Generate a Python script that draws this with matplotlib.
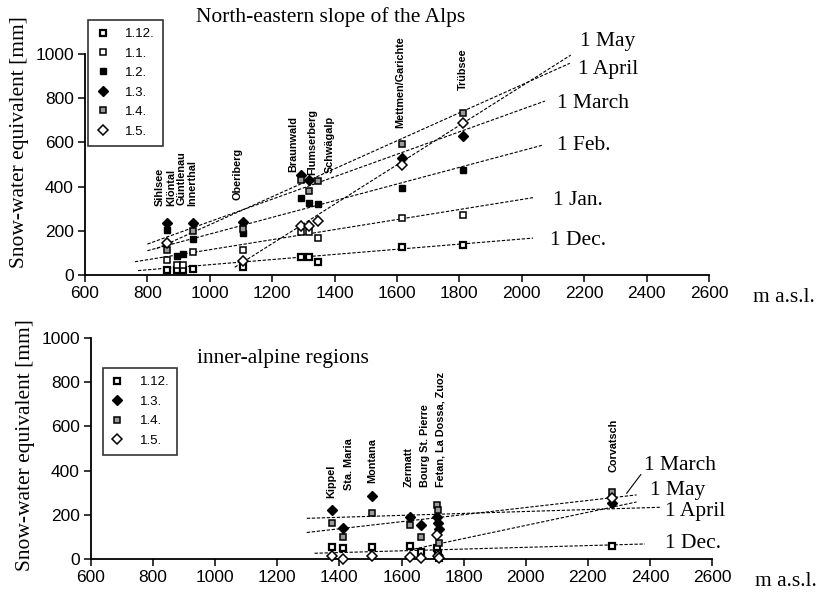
import numpy as np
import matplotlib.pyplot as plt

plt.rcParams['font.family'] = ['Liberation Sans', 'DejaVu Sans']
nan = np.nan

# North-eastern slope of the Alps: stations, altitude (m a.s.l.), SWE (mm)
ne_names = ['Sihlsee', 'Klöntal', 'Güntlenau', 'Innerthal', 'Oberiberg',
            'Braunwald', 'Flumserberg', 'Schwägalp', 'Mettmen/Garichte', 'Trübsee']
ne_alt = [862, 895, 913, 947, 1105, 1292, 1319, 1347, 1617, 1810]
ne_dec = [23, 23, 23, 27, 38, 80, 80, 60, 128, 136]
ne_jan = [68, 45, 45, 106, 113, 196, 196, 166, 256, 272]
ne_feb = [204, 88, 95, 165, 189, 347, 327, 321, 395, 475]
ne_mar = [236, nan, nan, 234, 240, 452, 430, nan, 528, 629]
ne_apr = [113, nan, nan, 200, 210, 430, 382, 427, 593, 732]
ne_may = [145, nan, nan, nan, 63, 222, 222, 246, 498, 686]

# regression lines as drawn: start/end altitude and SWE
ne_lines = ['1 Dec.', '1 Jan.', '1 Feb.', '1 March', '1 April', '1 May']
ne_fit_x0 = [770, 760, 800, 800, 830, 1080]
ne_fit_y0 = [20, 60, 110, 140, 120, 35]
ne_fit_x1 = [2036, 2036, 2068, 2074, 2154, 2157]
ne_fit_y1 = [167, 350, 588, 787, 958, 995]

# inner-alpine regions
ia_names = ['Kippel', 'Sta. Maria', 'Montana', 'Zermatt', 'Bourg St. Pierre',
            'Fetan', 'La Dossa', 'Zuoz', 'Corvatsch']
ia_alt = [1376, 1410, 1504, 1627, 1662, 1714, 1717, 1720, 2279]
ia_dec = [56, 48, 53, 59, 33, 48, 26, 3, 59]
ia_mar = [222, 139, 285, 192, 154, 192, 161, 134, 252]
ia_apr = [161, 101, 210, 154, 101, 244, 222, 71, 302]
ia_may = [15, 0, 15, 11, 6, 109, 15, 3, 275]

ia_lines = ['1 Dec.', '1 March', '1 April', '1 May']
ia_fit_x0 = [1320, 1295, 1295, 1640]
ia_fit_y0 = [26, 120, 184, 45]
ia_fit_x1 = [2384, 2357, 2432, 2357]
ia_fit_y1 = [68, 290, 234, 258]

marker_style = {
    '1.12.': dict(marker='s', ms=4.2, mfc='white', mec='black', mew=1.6),
    '1.1.': dict(marker='s', ms=4.6, mfc='white', mec='black', mew=1.1),
    '1.2.': dict(marker='s', ms=4.6, mfc='black', mec='black', mew=1.0),
    '1.3.': dict(marker='D', ms=4.6, mfc='black', mec='black', mew=1.0),
    '1.4.': dict(marker='s', ms=4.6, mfc='#9a9a9a', mec='black', mew=1.1),
    '1.5.': dict(marker='D', ms=4.6, mfc='white', mec='black', mew=1.1),
}

SERIF = 'Liberation Serif'
NARROW = ['Liberation Sans Narrow', 'Liberation Sans']

fig = plt.figure(figsize=(8.27, 6.02), dpi=100)
ax1 = fig.add_axes([85 / 827, 327 / 602, 624 / 827, 221 / 602])
ax2 = fig.add_axes([91 / 827, 43 / 602, 621 / 827, 221 / 602])


def style_axes(ax, ylab_y):
    ax.set_xlim(600, 2600)
    ax.set_ylim(0, 1000)
    ax.set_xticks(range(600, 2601, 200))
    ax.set_yticks(range(0, 1001, 200))
    for s in ['top', 'right']:
        ax.spines[s].set_visible(False)
    for s in ['left', 'bottom']:
        ax.spines[s].set_linewidth(1.3)
    ax.tick_params(direction='out', length=5, width=1.1, labelsize=12.5, pad=3)
    ax.set_ylabel('Snow-water equivalent [mm]', family=SERIF, fontsize=15.5)
    ax.yaxis.set_label_coords(-0.09, ylab_y)
    ax.text(1.07, -0.1, 'm a.s.l.', transform=ax.transAxes, family=SERIF,
            fontsize=15.5, va='center', ha='left')


def draw_series(ax, alt, series):
    handles = []
    for lab, vals in series:
        h, = ax.plot(alt, vals, linestyle='none', clip_on=False, zorder=5,
                     **marker_style[lab])
        handles.append(h)
    return handles


def draw_fits(ax, x0, y0, x1, y1):
    for a, b, c, d in zip(x0, y0, x1, y1):
        ax.plot([a, c], [b, d], color='black', lw=0.8,
                linestyle=(0, (3, 1.5)), clip_on=False, zorder=3)


# ---- top panel
style_axes(ax1, 0.60)
draw_fits(ax1, ne_fit_x0, ne_fit_y0, ne_fit_x1, ne_fit_y1)
h1 = draw_series(ax1, ne_alt, [('1.12.', ne_dec), ('1.1.', ne_jan), ('1.2.', ne_feb),
                              ('1.3.', ne_mar), ('1.4.', ne_apr), ('1.5.', ne_may)])
leg = ax1.legend(h1, list(marker_style.keys()), loc='upper left',
                 bbox_to_anchor=(0.005, 1.154), borderaxespad=0, fancybox=False,
                 edgecolor='black', fontsize=9.5, handlelength=1.0,
                 handletextpad=1.2, labelspacing=0.55, borderpad=0.6)
leg.get_frame().set_linewidth(1.2)

ne_label_pos = [(840, 312), (876, 312), (910, 315), (944, 312), (1090, 339),
                (1268, 466), (1327, 452), (1385, 461), (1610, 665), (1812, 837)]
for name, (x, y) in zip(ne_names, ne_label_pos):
    ax1.text(x, y, name, rotation=90, ha='center', va='bottom', fontsize=7.8,
             family=NARROW, fontweight='bold')

ne_line_label_pos = [(2090, 158), (2100, 339), (2113, 588), (2113, 778),
                     (2180, 932), (2187, 1056)]
for name, (x, y) in zip(ne_lines, ne_line_label_pos):
    ax1.text(x, y, name, family=SERIF, fontsize=15.5, va='center', ha='left',
             clip_on=False)

ax1.text(0.393, 1.167, 'North-eastern slope of the Alps', transform=ax1.transAxes,
         family=SERIF, fontsize=15.5, ha='center', va='center')

# ---- bottom panel
style_axes(ax2, 0.516)
draw_fits(ax2, ia_fit_x0, ia_fit_y0, ia_fit_x1, ia_fit_y1)
ia_keys = ['1.12.', '1.3.', '1.4.', '1.5.']
h2 = draw_series(ax2, ia_alt, list(zip(ia_keys, [ia_dec, ia_mar, ia_apr, ia_may])))
leg2 = ax2.legend(h2, ia_keys, loc='upper left', bbox_to_anchor=(0.019, 0.864),
                  borderaxespad=0, fancybox=False, edgecolor='black', fontsize=9.5,
                  handlelength=1.0, handletextpad=1.2, labelspacing=0.55,
                  borderpad=0.6)
leg2.get_frame().set_linewidth(1.2)

ia_label_text = ['Kippel', 'Sta. Maria', 'Montana', 'Zermatt', 'Bourg St. Pierre',
                 'Fetan, La Dossa, Zuoz', 'Corvatsch']
ia_label_pos = [(1375, 275), (1432, 312), (1507, 342), (1622, 327), (1676, 327),
                (1724, 327), (2282, 395)]
for name, (x, y) in zip(ia_label_text, ia_label_pos):
    ax2.text(x, y, name, rotation=90, ha='center', va='bottom', fontsize=7.8,
             family=NARROW, fontweight='bold')

ia_line_label_pos = [(2448, 71), (2380, 425), (2448, 214), (2400, 312)]
for name, (x, y) in zip(ia_lines, ia_line_label_pos):
    if name == '1 March':
        ax2.annotate(name, xy=(2325, 297), xytext=(x, y), family=SERIF,
                     fontsize=15.5, va='center', ha='left',
                     arrowprops=dict(arrowstyle='-', lw=0.8, relpos=(0, 0.2),
                                     shrinkA=0, shrinkB=0))
    else:
        ax2.text(x, y, name, family=SERIF, fontsize=15.5, va='center', ha='left')

ax2.text(0.171, 0.909, 'inner-alpine regions', transform=ax2.transAxes,
         family=SERIF, fontsize=15.5, ha='left', va='center')

fig.savefig('out.png', dpi=100)
